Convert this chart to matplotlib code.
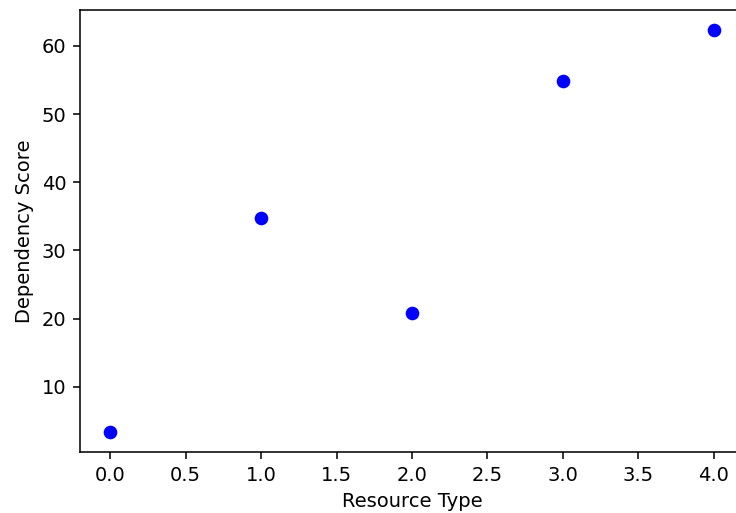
import numpy as np
import matplotlib
matplotlib.use("Agg")
import matplotlib.pyplot as plt

# resource type index vs dependency score
resource_type = [0, 1, 2, 3, 4]
dependency_score = [3.4, 34.7, 20.8, 54.9, 62.3]

# original looks like it was rendered at a higher dpi, so scale everything up
fig = plt.figure(figsize=(736 / 140, 513 / 140), dpi=140)
# the original is cropped on the right, so the axes run past the figure edge
ax = fig.add_axes([80 / 736, 1 - 452 / 513, 664 / 736, 442 / 513])

ax.scatter(resource_type, dependency_score, color="blue")
ax.set_xlabel("Resource Type")
ax.set_ylabel("Dependency Score")
# right spine is off the cropped picture
ax.spines["right"].set_visible(False)

fig.savefig("out.png", dpi=140)
